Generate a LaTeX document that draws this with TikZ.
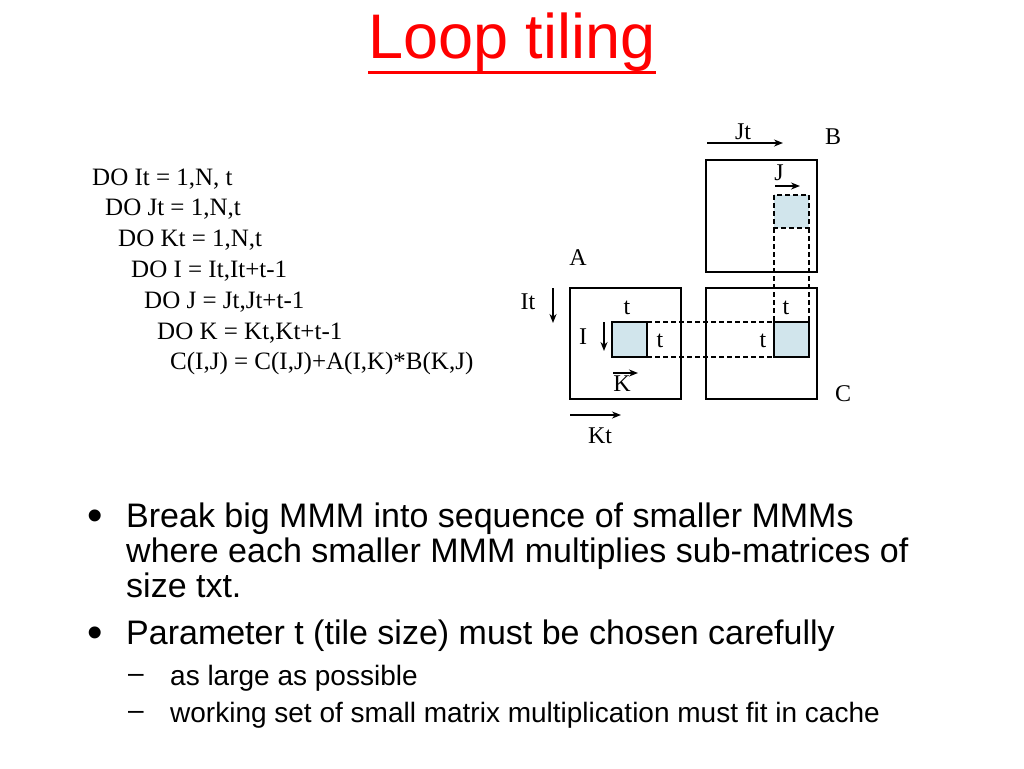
\documentclass[tikz,border=0pt]{standalone}
\usepackage{fontspec}
\setmainfont{Liberation Serif}
\setsansfont{Liberation Sans}
\usetikzlibrary{arrows.meta}
\begin{document}
\begin{tikzpicture}[x=1pt,y=-1pt,
  lbl/.style={font=\fontsize{24}{24}\selectfont, inner sep=0pt},
  code/.style={font=\fontsize{25}{25}\selectfont, anchor=west, inner sep=0pt},
  bul/.style={font=\sffamily\fontsize{34}{35}\selectfont, anchor=north west, inner sep=0pt, align=left},
  dot/.style={font=\sffamily\fontsize{44}{44}\selectfont, anchor=center, inner sep=0pt},
  sub/.style={font=\sffamily\fontsize{28}{28}\selectfont, anchor=west, inner sep=0pt},
  mat/.style={draw, line width=1.3pt},
  tile/.style={fill=cyan!25!teal!20, draw, line width=1.3pt},
  arr/.style={-{Stealth[length=9pt,width=7pt]}, line width=1.6pt},
  dsh/.style={dash pattern=on 5pt off 3pt, line width=1.3pt}]
\useasboundingbox (0,0) rectangle (1024,768);
\node[font=\sffamily\fontsize{63}{63}\selectfont, text=red, inner sep=0pt] (title) at (512,42) {Loop tiling};
\draw[red, line width=3pt] (title.west |- 0,72) -- (title.east |- 0,72);
% code
\node[code] (c1) at (92,179) {DO It = 1,N, t};
\node[code] (c2) at (105,209) {DO Jt = 1,N,t};
\node[code] (c3) at (118,240) {DO Kt = 1,N,t};
\node[code] (c4) at (131,271) {DO I = It,It+t-1};
\node[code] (c5) at (144,302) {DO J = Jt,Jt+t-1};
\node[code] (c6) at (157,333) {DO K = Kt,Kt+t-1};
\node[code] (c7) at (170,363) {C(I,J) = C(I,J)+A(I,K)*B(K,J)};
% matrices
\draw[mat] (570,288) rectangle (681,399);
\draw[mat] (706,288) rectangle (817,399);
\draw[mat] (706,160) rectangle (817,272);
\draw[dsh] (647,322) -- (774,322) (647,357) -- (774,357);
\draw[dsh] (774,228) -- (774,322) (809,228) -- (809,322);
\draw[tile] (612,322) rectangle (647,357);
\draw[tile] (774,322) rectangle (809,357);
\draw[tile, dsh] (774,195) rectangle (809,228);
% labels
\node[lbl] (lA) at (578,258) {A};
\node[lbl] (lB) at (833,137) {B};
\node[lbl] (lC) at (843,394) {C};
\coordinate (jt1) at (707,143); \coordinate (jt2) at (783,143);
\draw[arr] (jt1) -- (jt2); \node[lbl] (lJt) at (743,132) {Jt};
\coordinate (j1) at (775,186); \coordinate (j2) at (800,186);
\draw[arr] (j1) -- (j2); \node[lbl] (lJ) at (779,173) {J};
\node[lbl] (lIt) at (528,302) {It};
\coordinate (it1) at (553,288); \coordinate (it2) at (553,323);
\draw[arr] (it1) -- (it2);
\node[lbl] (lI) at (583,337) {I};
\coordinate (i1) at (604,322); \coordinate (i2) at (604,351);
\draw[arr] (i1) -- (i2);
\coordinate (k1) at (613,373); \coordinate (k2) at (638,373);
\draw[arr] (k1) -- (k2); \node[lbl] (lK) at (622,384) {K};
\coordinate (kt1) at (570,415); \coordinate (kt2) at (621,415);
\draw[arr] (kt1) -- (kt2); \node[lbl] (lKt) at (600,436) {Kt};
\node[lbl] (t1) at (627,308) {t};
\node[lbl] (t2) at (660,341) {t};
\node[lbl] (t3) at (786,308) {t};
\node[lbl] (t4) at (763,341) {t};
% bullets
\node[dot] (b0) at (95,520) {\textbullet};
\node[bul] (b1) at (126,503) {Break big MMM into sequence of smaller MMMs\\where each smaller MMM multiplies sub-matrices of\\size txt.};
\node[dot] (b2d) at (95,637) {\textbullet};
\node[bul] (b2) at (126,620) {Parameter t (tile size) must be chosen carefully};
\node[sub] (s1d) at (128,678) {--};
\node[sub] (s1) at (170,678) {as large as possible};
\node[sub] (s2d) at (128,715) {--};
\node[sub] (s2) at (170,715) {working set of small matrix multiplication must fit in cache};
\end{tikzpicture}
\end{document}
